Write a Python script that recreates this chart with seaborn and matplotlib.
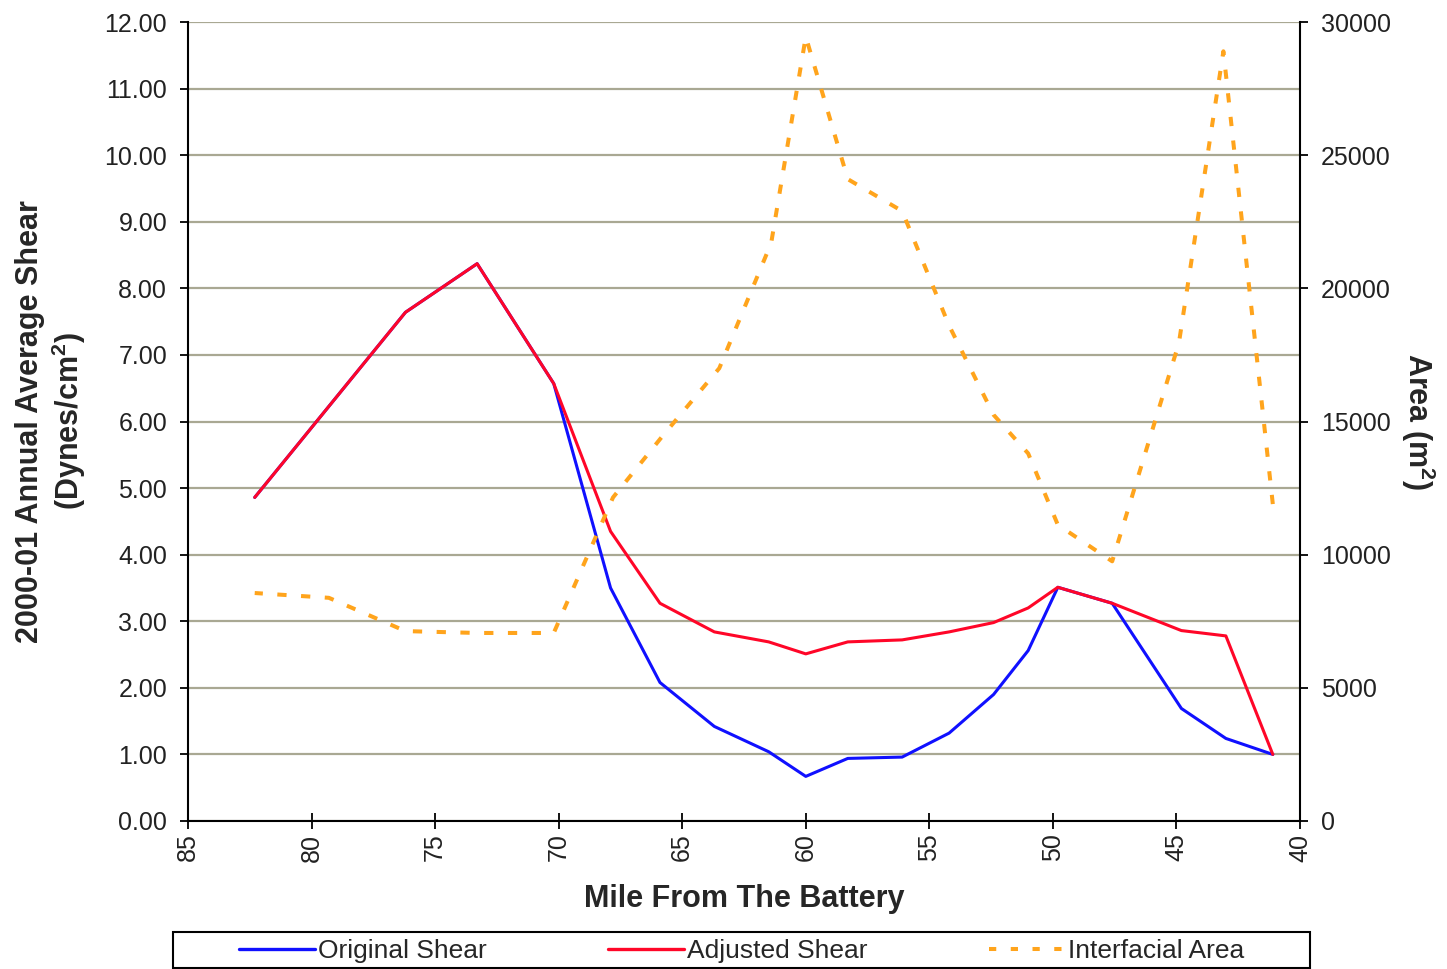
import matplotlib
matplotlib.use("Agg")
import matplotlib.pyplot as plt
import pandas as pd
import seaborn as sns
from matplotlib.patches import Rectangle
from matplotlib.lines import Line2D
from matplotlib.ticker import FormatStrFormatter, MultipleLocator

# Shear along the river (miles from The Battery)
miles = [82.3, 76.2, 73.3, 70.2, 67.9, 65.9, 63.7, 61.5, 60.0, 58.3,
         56.1, 54.2, 52.4, 51.0, 49.8, 47.6, 44.8, 43.0, 41.1]
original_shear = [4.86, 7.64, 8.37, 6.57, 3.50, 2.08, 1.42, 1.04, 0.67, 0.94,
                  0.96, 1.32, 1.90, 2.56, 3.51, 3.27, 1.69, 1.24, 1.00]
adjusted_shear = [4.86, 7.64, 8.37, 6.57, 4.35, 3.27, 2.84, 2.69, 2.51, 2.69,
                  2.72, 2.84, 2.98, 3.20, 3.51, 3.27, 2.86, 2.78, 1.00]

# Interfacial area (m^2)
area_miles = [82.3, 79.3, 76.2, 73.3, 70.2, 67.8, 65.8, 63.5, 61.4, 60.0,
              58.3, 56.1, 54.2, 52.4, 51.0, 49.8, 47.6, 44.9, 43.1, 41.1]
interfacial_area = [8560, 8380, 7130, 7060, 7060, 12150, 14450, 17000, 21700, 29450,
                    24100, 22900, 18600, 15250, 13800, 11120, 9750, 17950, 28900, 11900]

series_labels = ["Original Shear", "Adjusted Shear", "Interfacial Area"]
x_label = "Mile From The Battery"
left_label = "2000-01 Annual Average Shear\n(Dynes/cm$^\\mathbf{2}$)"
right_label = "Area (m$^\\mathbf{2}$)"

sns.set_theme(style="white")
plt.rcParams["font.family"] = ["Liberation Sans", "DejaVu Sans"]
plt.rcParams["mathtext.fontset"] = "custom"
plt.rcParams["mathtext.rm"] = "Liberation Sans"
plt.rcParams["mathtext.bf"] = "Liberation Sans:bold"

W, H = 1447, 969
fig = plt.figure(figsize=(W / 100, H / 100), dpi=100)
L, R, T, B = 188, 1300, 22, 821
ax = fig.add_axes([L / W, 1 - B / H, (R - L) / W, (B - T) / H])
ax2 = ax.twinx()

shear_df = pd.DataFrame({"mile": miles, "orig": original_shear, "adj": adjusted_shear})
area_df = pd.DataFrame({"mile": area_miles, "area": interfacial_area})

blue = "#1010ff"
red = "#ff0628"
orange = "#ffa41c"

sns.lineplot(data=shear_df, x="mile", y="orig", ax=ax, color=blue, linewidth=2.2,
             estimator=None, sort=True, zorder=3)
sns.lineplot(data=shear_df, x="mile", y="adj", ax=ax, color=red, linewidth=2.2,
             estimator=None, sort=True, zorder=4)
sns.lineplot(data=area_df, x="mile", y="area", ax=ax2, color=orange, linewidth=2.9,
             estimator=None, sort=True)
ax2.lines[0].set_dashes((2.3, 3.6))

ax.set_xlim(85, 40)
ax.set_ylim(0, 12)
ax2.set_ylim(0, 30000)
ax.xaxis.set_major_locator(MultipleLocator(5))
ax.yaxis.set_major_locator(MultipleLocator(1))
ax.yaxis.set_major_formatter(FormatStrFormatter("%.2f"))
ax2.yaxis.set_major_locator(MultipleLocator(5000))
ax2.yaxis.set_major_formatter(FormatStrFormatter("%d"))

grid_color = "#a9a893"
ax.grid(axis="y", color=grid_color, linewidth=1.6)
ax.grid(axis="x", visible=False)
ax2.grid(False)

for a in (ax, ax2):
    a.set_facecolor("none")
    a.spines["top"].set_visible(False)
    for s in a.spines.values():
        s.set_color("black")
        s.set_linewidth(1.5)
ax2.spines["left"].set_visible(False)
ax2.spines["bottom"].set_visible(False)
ax.spines["right"].set_visible(False)

tick_fs = 18
ax.tick_params(axis="y", direction="out", length=6, width=1.3, pad=9,
               labelsize=tick_fs, left=True, colors="black")
ax.tick_params(axis="x", direction="inout", length=12, width=1.3, pad=3,
               labelsize=tick_fs, bottom=True, labelrotation=90, colors="black")
ax2.tick_params(axis="y", direction="out", length=6, width=1.3, pad=9,
                labelsize=tick_fs, right=True, colors="black")
for lab in ax.get_yticklabels() + ax2.get_yticklabels() + ax.get_xticklabels():
    lab.set_color("#222222")

ax.set_xlabel(x_label, fontsize=22, fontweight="bold", labelpad=16)
ax.set_ylabel(left_label, fontsize=22, fontweight="bold", labelpad=12, linespacing=1.15)
ax2.set_ylabel(right_label, fontsize=22, fontweight="bold", labelpad=6, rotation=-90,
               va="bottom")

# Legend box below the plot
fig.patches.append(Rectangle((173 / W, 1 - 968 / H), (1310 - 173) / W, (968 - 932) / H,
                             transform=fig.transFigure, fill=False, edgecolor="black",
                             linewidth=1.5))
handles = [
    Line2D([], [], color=blue, linewidth=2.4),
    Line2D([], [], color=red, linewidth=2.4),
    Line2D([], [], color=orange, linewidth=2.9, dashes=(1.8, 3.6)),
]
fig.legend(handles, series_labels, loc="center", ncol=3,
           bbox_to_anchor=((173 + 1310) / 2 / W, 1 - 951 / H),
           frameon=False, fontsize=19, handlelength=2.9, handletextpad=0.1,
           columnspacing=4.6, borderpad=0, borderaxespad=0)

fig.savefig("out.png", dpi=100, facecolor="white")
